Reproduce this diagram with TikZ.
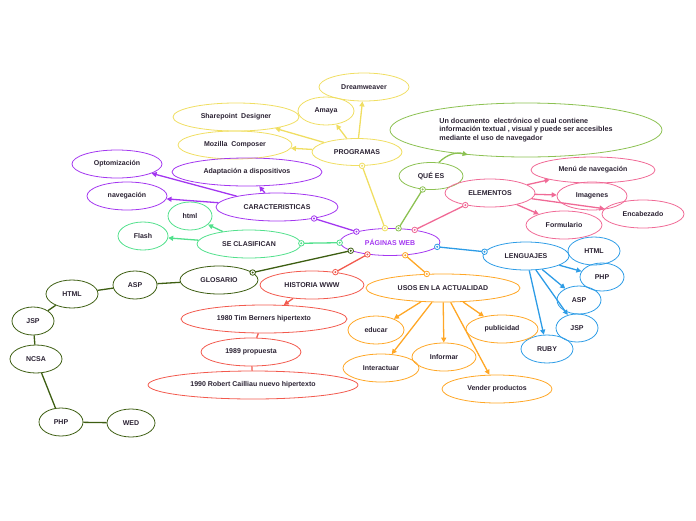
\documentclass[tikz,border=0pt]{standalone}
\usepackage{fontspec}
\setmainfont{Liberation Sans}
\usepackage{tikz}
\usetikzlibrary{shapes.geometric}
\usetikzlibrary{arrows.meta}

\definecolor{cYel}{HTML}{F0DE62}
\definecolor{cGrn}{HTML}{8CC152}
\definecolor{cPink}{HTML}{F06A96}
\definecolor{cBlue}{HTML}{2D9CE6}
\definecolor{cOra}{HTML}{FFA726}
\definecolor{cRed}{HTML}{F25A4E}
\definecolor{cDkg}{HTML}{3D5E12}
\definecolor{cLgr}{HTML}{52E08C}
\definecolor{cPur}{HTML}{A337F0}
\definecolor{txt}{HTML}{2B2233}

\begin{document}
\begin{tikzpicture}[x=1pt,y=1pt,
  bub/.style={ellipse,draw=#1,line width=0.8pt,text=txt,inner sep=0pt,
    minimum height=28pt,font=\bfseries\fontsize{7}{8.5}\selectfont},
  arr/.style={draw=#1,line width=1.3pt,-{Triangle[length=5pt,width=5pt]}},
  link/.style={draw=#1,line width=1.3pt},
  knob/.style={circle,draw=#1,fill=white,line width=0.8pt,inner sep=0pt,
    minimum size=5.5pt,path picture={\fill[#1] (path picture bounding box.center) circle (1.1pt);}}]

  \useasboundingbox (0,0) rectangle (696,-520);

  % centre
  \node[bub=cPur,minimum width=100pt,minimum height=27pt,text=cPur] (web) at (390,-242) {PÁGINAS WEB};

  % programas
  \node[bub=cYel,minimum width=90pt,minimum height=27pt] (prog)  at (357,-152) {PROGRAMAS};
  \node[bub=cYel,minimum width=90pt]  (dream) at (364,-87)  {Dreamweaver};
  \node[bub=cYel,minimum width=56pt]  (amaya) at (326,-111) {Amaya};
  \node[bub=cYel,minimum width=126pt] (share) at (236,-117) {Sharepoint\ \ Designer};
  \node[bub=cYel,minimum width=114pt] (mozi)  at (235,-145) {Mozilla\ \ Composer};

  % que es
  \node[bub=cGrn,minimum width=64pt,minimum height=27pt] (quees) at (431,-176) {QUÉ ES};
  \node[bub=cGrn,minimum width=272pt,minimum height=54pt,align=left,
        font=\bfseries\fontsize{7.2}{8.6}\selectfont] (doc) at (526,-130)
    {Un documento\ \ electrónico el cual contiene\\información textual , visual y puede ser accesibles\\mediante el uso de navegador};

  % elementos
  \node[bub=cPink,minimum width=90pt]  (elem) at (490,-193) {ELEMENTOS};
  \node[bub=cPink,minimum width=124pt,minimum height=26pt] (menu) at (593,-170) {Menú de navegación};
  \node[bub=cPink,minimum width=70pt]  (imag) at (592,-196) {Imagenes};
  \node[bub=cPink,minimum width=82pt]  (enca) at (643,-214) {Encabezado};
  \node[bub=cPink,minimum width=76pt]  (form) at (564,-225) {Formulario};

  % lenguajes
  \node[bub=cBlue,minimum width=86pt] (leng)  at (526,-256) {LENGUAJES};
  \node[bub=cBlue,minimum width=52pt] (lhtml) at (594,-251) {HTML};
  \node[bub=cBlue,minimum width=44pt] (lphp)  at (602,-277) {PHP};
  \node[bub=cBlue,minimum width=44pt] (lasp)  at (579,-300) {ASP};
  \node[bub=cBlue,minimum width=42pt] (ljsp)  at (577,-328) {JSP};
  \node[bub=cBlue,minimum width=52pt] (ruby)  at (547,-349) {RUBY};

  % caracteristicas
  \node[bub=cPur,minimum width=122pt] (cara) at (277,-207) {CARACTERISTICAS};
  \node[bub=cPur,minimum width=150pt] (adap) at (247,-172) {Adaptación a dispositivos};
  \node[bub=cPur,minimum width=90pt]  (opto) at (117,-164) {Optomización};
  \node[bub=cPur,minimum width=80pt]  (nave) at (127,-196) {navegación};

  % se clasifican
  \node[bub=cLgr,minimum width=104pt] (clas)  at (249,-244) {SE CLASIFICAN};
  \node[bub=cLgr,minimum width=44pt]  (chtml) at (190,-216) {html};
  \node[bub=cLgr,minimum width=50pt]  (flash) at (143,-236) {Flash};

  % glosario
  \node[bub=cDkg,minimum width=78pt] (glos)  at (219,-280) {GLOSARIO};
  \node[bub=cDkg,minimum width=44pt] (gasp)  at (135,-285) {ASP};
  \node[bub=cDkg,minimum width=52pt] (ghtml) at (72,-294)  {HTML};
  \node[bub=cDkg,minimum width=42pt] (gjsp)  at (33,-321)  {JSP};
  \node[bub=cDkg,minimum width=52pt] (ncsa)  at (36,-359)  {NCSA};
  \node[bub=cDkg,minimum width=44pt] (gphp)  at (61,-422)  {PHP};
  \node[bub=cDkg,minimum width=48pt] (wed)   at (131,-423) {WED};

  % historia
  \node[bub=cRed,minimum width=104pt] (hist) at (312,-285) {HISTORIA WWW};
  \node[bub=cRed,minimum width=166pt] (h80)  at (264,-319) {1980 Tim Berners hipertexto};
  \node[bub=cRed,minimum width=100pt] (h89)  at (251,-352) {1989 propuesta};
  \node[bub=cRed,minimum width=210pt] (h90)  at (253,-385) {1990 Robert Cailliau nuevo hipertexto};

  % usos
  \node[bub=cOra,minimum width=154pt] (usos)  at (443,-288) {USOS EN LA ACTUALIDAD};
  \node[bub=cOra,minimum width=56pt]  (educ)  at (376,-330) {educar};
  \node[bub=cOra,minimum width=76pt]  (inter) at (381,-368) {Interactuar};
  \node[bub=cOra,minimum width=64pt]  (infor) at (444,-357) {Informar};
  \node[bub=cOra,minimum width=72pt]  (publi) at (502,-329) {publicidad};
  \node[bub=cOra,minimum width=110pt] (vende) at (497,-389) {Vender productos};

  % branches out of the centre
  \foreach \t/\c in {prog/cYel,quees/cGrn,elem/cPink,leng/cBlue,usos/cOra,
                     hist/cRed,glos/cDkg,clas/cLgr,cara/cPur} {
    \draw[link=\c] (web) -- (\t) node[knob=\c,pos=0] {} node[knob=\c,pos=1] {};
  }

  % sub branches
  \foreach \a/\b/\c in {prog/dream/cYel,prog/amaya/cYel,prog/share/cYel,prog/mozi/cYel,
                        elem/menu/cPink,elem/imag/cPink,elem/enca/cPink,elem/form/cPink,
                        leng/lphp/cBlue,leng/lasp/cBlue,leng/ljsp/cBlue,leng/ruby/cBlue,
                        cara/adap/cPur,cara/opto/cPur,cara/nave/cPur,
                        clas/chtml/cLgr,clas/flash/cLgr,
                        usos/educ/cOra,usos/inter/cOra,usos/infor/cOra,usos/publi/cOra,usos/vende/cOra,
                        hist/h80/cRed} {
    \draw[arr=\c] (\a) -- (\b);
  }

  \draw[arr=cGrn] (quees.60) to[bend left=30] (doc.203);

  \draw[link=cRed] (h80) -- (h89);
  \draw[link=cRed] (h89) -- (h90);

  \foreach \a/\b in {glos/gasp,gasp/ghtml,ghtml/gjsp,gjsp/ncsa,ncsa/gphp,gphp/wed} {
    \draw[link=cDkg] (\a) -- (\b);
  }

\end{tikzpicture}
\end{document}
